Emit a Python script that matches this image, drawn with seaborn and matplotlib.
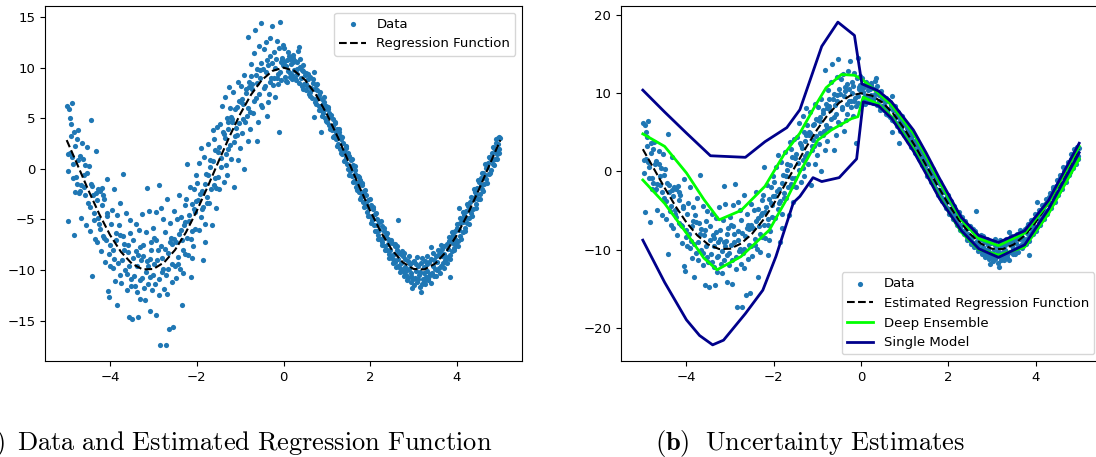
import matplotlib
matplotlib.use("Agg")
import matplotlib.pyplot as plt
import seaborn as sns

plt.rcParams["font.size"] = 9.5
plt.rcParams["mathtext.fontset"] = "cm"

data_x = [
    -4.99, -4.97, -4.95, -4.93, -4.90, -4.88, -4.85, -4.82, -4.79, -4.76, -4.96, -4.84, -4.92, -4.87, -4.80,
    -4.74, -4.72, -4.69, -4.67, -4.64, -4.61, -4.58, -4.56, -4.53, -4.51, -4.70, -4.60,
    -4.49, -4.46, -4.44, -4.43, -4.42, -4.39, -4.36, -4.33, -4.31, -4.28, -4.26, -4.35, -4.30,
    -4.24, -4.21, -4.19, -4.16, -4.14, -4.11, -4.08, -4.06, -4.05, -4.03, -4.01, -4.17, -4.10,
    -3.99, -3.96, -3.94, -3.91, -3.88, -3.86, -3.83, -3.80, -3.78, -3.76, -3.90, -3.85,
    -3.74, -3.71, -3.69, -3.66, -3.63, -3.61, -3.58, -3.56, -3.53, -3.51, -3.68, -3.55, -3.57,
    -3.49, -3.46, -3.44, -3.41, -3.38, -3.36, -3.35, -3.33, -3.31, -3.28, -3.26, -3.40, -3.30,
    -3.24, -3.21, -3.19, -3.16, -3.15, -3.14, -3.11, -3.08, -3.07, -3.06, -3.03, -3.01, -3.12, -3.05,
    -2.99, -2.96, -2.95, -2.94, -2.91, -2.88, -2.86, -2.84, -2.83, -2.80, -2.78, -2.76, -2.90, -2.82,
    -2.74, -2.72, -2.71, -2.69, -2.66, -2.63, -2.61, -2.58, -2.56, -2.55, -2.53, -2.51, -2.68, -2.60,
    -2.49, -2.46, -2.44, -2.41, -2.38, -2.36, -2.35, -2.33, -2.31, -2.28, -2.26, -2.40, -2.30,
    -2.24, -2.22, -2.21, -2.19, -2.16, -2.14, -2.13, -2.11, -2.08, -2.06, -2.03, -2.01, -2.10, -2.05,
    -1.99, -1.96, -1.94, -1.91, -1.88, -1.86, -1.83, -1.80, -1.78, -1.76, -1.90, -1.81, -1.85,
    -1.74, -1.71, -1.69, -1.66, -1.63, -1.61, -1.58, -1.56, -1.53, -1.51, -1.70, -1.60, -1.55,
    -1.49, -1.46, -1.44, -1.41, -1.38, -1.36, -1.34, -1.33, -1.31, -1.28, -1.26, -1.40, -1.30, -1.27,
    -1.24, -1.21, -1.19, -1.16, -1.14, -1.13, -1.11, -1.08, -1.06, -1.03, -1.01, -1.20, -1.10, -1.05,
    -0.99, -0.96, -0.94, -0.92, -0.91, -0.88, -0.86, -0.83, -0.82, -0.80, -0.78, -0.76, -0.95, -0.85, -0.77,
    -0.74, -0.71, -0.69, -0.66, -0.63, -0.62, -0.61, -0.58, -0.56, -0.53, -0.51, -0.72, -0.60, -0.55, -0.52,
    -0.49, -0.46, -0.44, -0.41, -0.38, -0.36, -0.33, -0.31, -0.28, -0.26, -0.40, -0.35, -0.30,
    -0.24, -0.21, -0.19, -0.16, -0.13, -0.11, -0.08, -0.06, -0.03, -0.01, -0.20, -0.15, -0.10, -0.05, -0.02,
    0.02, 0.04, 0.07, 0.09, 0.12, 0.14, 0.17, 0.19, 0.22, 0.24, 0.05, 0.10, 0.15, 0.20,
    0.26, 0.28, 0.31, 0.33, 0.36, 0.38, 0.41, 0.43, 0.46, 0.48, 0.35, 0.30, 0.45,
    0.51, 0.53, 0.56, 0.58, 0.61, 0.63, 0.66, 0.68, 0.71, 0.73, 0.55, 0.60, 0.70, 0.75,
    0.76, 0.78, 0.81, 0.83, 0.86, 0.87, 0.88, 0.91, 0.93, 0.96, 0.98, 0.80, 0.90, 0.95,
    1.01, 1.03, 1.06, 1.08, 1.11, 1.13, 1.16, 1.18, 1.21, 1.23, 1.05, 1.15, 1.20,
    1.26, 1.28, 1.31, 1.33, 1.36, 1.38, 1.41, 1.43, 1.46, 1.48, 1.30, 1.40, 1.45,
    1.51, 1.53, 1.56, 1.58, 1.61, 1.63, 1.66, 1.68, 1.71, 1.73, 1.55, 1.65, 1.70,
    1.76, 1.78, 1.81, 1.83, 1.86, 1.88, 1.91, 1.93, 1.96, 1.98, 1.80, 1.90, 1.95,
    2.01, 2.03, 2.06, 2.08, 2.11, 2.13, 2.16, 2.18, 2.21, 2.23, 2.05, 2.15, 2.20,
    2.26, 2.28, 2.31, 2.33, 2.36, 2.38, 2.41, 2.43, 2.46, 2.48, 2.30, 2.40, 2.45,
    2.51, 2.53, 2.56, 2.58, 2.61, 2.63, 2.64, 2.66, 2.68, 2.71, 2.73, 2.55, 2.65, 2.70,
    2.76, 2.78, 2.81, 2.83, 2.86, 2.88, 2.91, 2.93, 2.96, 2.98, 2.80, 2.85, 2.90, 2.95,
    3.01, 3.03, 3.06, 3.08, 3.11, 3.13, 3.16, 3.18, 3.21, 3.23, 3.05, 3.15, 3.20, 3.25,
    3.26, 3.28, 3.31, 3.33, 3.36, 3.38, 3.40, 3.41, 3.43, 3.46, 3.48, 3.30, 3.35, 3.45,
    3.51, 3.53, 3.56, 3.58, 3.61, 3.63, 3.66, 3.68, 3.71, 3.73, 3.55, 3.65, 3.70,
    3.76, 3.78, 3.81, 3.83, 3.84, 3.86, 3.88, 3.91, 3.93, 3.96, 3.98, 3.80, 3.90, 3.95,
    4.01, 4.03, 4.04, 4.06, 4.08, 4.11, 4.13, 4.16, 4.18, 4.21, 4.23, 4.05, 4.15, 4.20,
    4.26, 4.28, 4.31, 4.33, 4.36, 4.38, 4.41, 4.43, 4.46, 4.48, 4.30, 4.40, 4.45,
    4.51, 4.53, 4.56, 4.58, 4.61, 4.63, 4.66, 4.68, 4.71, 4.73, 4.55, 4.65, 4.70,
    4.76, 4.78, 4.81, 4.83, 4.86, 4.88, 4.91, 4.93, 4.96, 4.98, 4.80, 4.90, 4.95, 4.99, 4.97,
    # denser points close to the curve
    -4.98, -4.91, -4.86, -4.81, -4.77, -4.73, -4.68, -4.63, -4.57, -4.52,
    -4.47, -4.41, -4.37, -4.32, -4.27, -4.23, -4.18, -4.13, -4.07, -4.02,
    -3.98, -3.93, -3.87, -3.82, -3.77, -3.73, -3.67, -3.62, -3.59, -3.52,
    -3.47, -3.42, -3.37, -3.32, -3.27, -3.23, -3.18, -3.13, -3.09, -3.02,
    -2.98, -2.93, -2.87, -2.81, -2.77, -2.73, -2.67, -2.62, -2.57, -2.52,
    -2.48, -2.43, -2.37, -2.32, -2.27, -2.23, -2.18, -2.12, -2.07, -2.02,
    -1.98, -1.93, -1.87, -1.82, -1.77, -1.73, -1.68, -1.62, -1.57, -1.52,
    -1.48, -1.43, -1.37, -1.32, -1.29, -1.23, -1.18, -1.12, -1.07, -1.02,
    -0.98, -0.93, -0.87, -0.81, -0.79, -0.73, -0.68, -0.64, -0.57, -0.54,
    -0.48, -0.43, -0.37, -0.32, -0.27, -0.23, -0.18, -0.12, -0.07, -0.04,
    0.01, 0.06, 0.11, 0.16, 0.21, 0.23, 0.27, 0.32, 0.37, 0.42, 0.44, 0.49,
    0.52, 0.57, 0.62, 0.67, 0.72, 0.74, 0.77, 0.82, 0.85, 0.89, 0.94, 0.99,
    1.02, 1.07, 1.10, 1.14, 1.19, 1.24, 1.27, 1.32, 1.35, 1.39, 1.44, 1.49,
    1.52, 1.57, 1.60, 1.64, 1.69, 1.74, 1.77, 1.82, 1.85, 1.89, 1.94, 1.99,
    2.02, 2.07, 2.10, 2.14, 2.19, 2.24, 2.27, 2.32, 2.35, 2.39, 2.44, 2.49,
    2.52, 2.57, 2.60, 2.62, 2.69, 2.74, 2.77, 2.79, 2.84, 2.89, 2.94, 2.99,
    3.02, 3.07, 3.10, 3.14, 3.19, 3.24, 3.27, 3.32, 3.34, 3.39, 3.44, 3.49,
    3.52, 3.57, 3.60, 3.64, 3.69, 3.74, 3.77, 3.82, 3.85, 3.89, 3.94, 3.99,
    4.02, 4.07, 4.10, 4.14, 4.19, 4.24, 4.27, 4.32, 4.35, 4.39, 4.44, 4.49,
    4.52, 4.57, 4.60, 4.64, 4.69, 4.74, 4.77, 4.82, 4.85, 4.89, 4.94, 4.92,
]
data_y = [
    6.2, -0.2, 5.9, 1.6, 4.4, 6.5, 0.5, 3.6, -0.8, 2.9, -5.2, -6.5, 5.0, 1.2, -2.3,
    3.8, -2.4, 1.3, -4.9, 2.6, -1.8, 0.4, -5.6, 2.2, -3.4, -2.2, -0.6,
    0.3, -6.1, -1.5, 4.8, -10.6, -2.6, -4.4, 1.8, -7.2, -2.0, -5.5, -6.9, -3.1,
    -2.2, -8.1, -1.9, -6.6, -3.0, -9.2, -4.4, -1.0, -12.1, -12.7, -7.5, -2.6, -7.0,
    -9.6, -4.1, -8.0, -2.0, -11.1, -6.3, -13.5, -5.6, -10.5, -3.4, -8.9, -4.6,
    -11.3, -6.6, -0.5, -10.0, -4.4, -12.0, -7.5, -9.6, -5.1, -11.6, -8.0, -6.3, -14.6,
    -14.8, -7.0, -10.6, -5.5, -12.2, -8.5, -14.6, -6.0, -11.0, -9.0, -4.5, -8.1, -12.9,
    -7.5, -11.8, -13.0, -6.2, -1.9, -9.1, -4.2, -10.7, -14.1, -8.0, -12.0, -5.8, -9.6, -7.2,
    -6.8, -11.4, -14.4, -4.3, -9.0, -1.6, -12.5, -17.4, -7.6, -10.2, -5.0, -11.9, -8.0, -3.9,
    -6.2, -17.4, -10.5, -3.0, -8.3, -15.8, -5.4, -11.2, -7.4, -15.6, -4.2, -9.6, -12.4, -6.8,
    -10.8, -5.0, -8.7, -2.6, -9.9, -4.8, -13.5, -7.0, -10.3, -3.6, -8.4, -6.4, -5.6,
    -3.0, 0.5, -8.5, -5.2, -1.8, -10.7, -6.9, -3.5, -7.6, -2.0, -5.9, -0.6, -8.8, -4.3,
    -1.4, -6.0, 0.6, -4.8, -2.2, -9.0, 1.2, -5.5, -0.5, -3.4, 2.1, -7.2, -3.8,
    2.5, -3.4, 0.9, -5.6, 3.8, -1.6, 1.9, -3.9, 4.1, -0.8, 0.2, 2.9, -1.9,
    -2.0, 4.4, 1.1, 6.2, -1.3, 3.0, 7.1, 0.4, 5.0, 2.0, 8.1, 3.6, -0.6, 4.6,
    6.0, 1.0, 4.6, 7.6, -1.8, 2.7, 5.9, 3.3, 8.6, 6.7, 2.1, 5.1, 4.0, 0.9,
    8.2, 3.5, 6.4, 0.0, 9.3, 4.6, 7.5, 2.8, 13.0, 8.6, 5.6, 10.4, 6.9, 5.2, 3.9,
    9.2, 5.5, 11.4, 13.7, 7.0, 2.8, 9.9, 4.6, 12.1, 6.3, 10.5, 7.9, 8.5, 9.0, 14.4,
    6.1, 11.8, 8.0, 12.5, 5.2, 10.3, 7.4, 11.2, 9.0, 14.1, 9.6, 6.6, 12.9,
    8.3, 11.5, 7.1, 12.6, 9.4, 3.6, 14.5, 8.8, 11.0, 10.3, 10.0, 9.0, 11.9, 10.6, 12.2,
    11.9, 9.1, 10.8, 8.6, 11.2, 9.5, 10.4, 8.9, 11.0, 9.8, 10.2, 9.7, 10.9, 9.3,
    10.7, 8.8, 9.9, 11.6, 8.5, 10.1, 9.0, 8.2, 9.7, 8.4, 12.0, 9.4, 10.3,
    9.5, 7.8, 8.9, 7.4, 9.1, 8.0, 7.0, 8.5, 5.1, 7.9, 8.2, 7.6, 9.6, 6.9,
    6.4, 7.8, 6.2, 7.3, 5.8, 3.6, 6.9, 5.5, 6.6, 5.0, 6.2, 7.0, 6.4, 5.9,
    4.6, 5.9, 4.3, 5.2, 3.8, 4.9, 3.2, 4.5, 2.9, 3.9, 5.5, 4.2, 3.6,
    2.5, 3.6, 2.0, 2.9, 1.5, 2.6, 0.9, 2.1, 0.5, 1.6, 3.2, 1.8, 1.2,
    1.3, -0.2, 0.9, -0.7, 0.4, -1.2, -0.1, -1.8, -0.7, -2.3, 0.2, -0.5, -1.4,
    -1.1, -2.8, -1.6, -3.3, -2.2, -3.7, -2.6, -4.3, -3.1, -4.7, -2.4, -3.5, -3.8,
    -3.6, -5.1, -4.0, -5.6, -4.5, -6.1, -5.0, -6.5, -5.3, -6.9, -4.8, -5.6, -6.0,
    -5.7, -7.2, -6.1, -7.6, -6.5, -8.0, -6.9, -8.4, -7.2, -8.7, -6.8, -7.4, -8.0,
    -7.3, -8.9, -7.6, -9.2, -8.0, -5.1, -9.6, -8.3, -9.8, -8.4, -10.0, -8.4, -8.9, -9.3,
    -8.6, -10.2, -8.9, -10.5, -9.1, -10.8, -9.4, -10.3, -11.8, -9.2, -9.7, -10.0, -9.9, -10.6,
    -9.1, -10.8, -9.4, -11.2, -9.6, -10.5, -12.2, -9.3, -10.9, -9.7, -10.1, -10.2, -11.4, -10.3,
    -9.1, -10.7, -9.4, -11.0, -9.2, -10.4, -7.7, -8.9, -10.3, -9.0, -10.6, -10.1, -10.6, -9.6,
    -8.6, -10.0, -8.5, -9.8, -8.2, -9.6, -7.9, -9.3, -7.6, -9.0, -9.2, -8.6, -8.4,
    -7.4, -8.8, -7.1, -8.5, -10.7, -6.8, -8.1, -6.5, -7.8, -6.1, -7.4, -7.9, -7.3, -6.9,
    -5.8, -7.1, -3.9, -5.4, -6.6, -5.0, -6.2, -4.6, -5.8, -4.2, -5.4, -6.0, -5.3, -4.9,
    -3.7, -4.9, -3.3, -4.4, -2.9, -4.0, -2.3, -3.5, -1.9, -3.0, -4.0, -3.0, -2.6,
    -1.3, -2.5, -0.9, -2.0, -0.4, -1.5, 0.1, -1.0, 0.6, -0.5, -1.6, -0.6, 0.2,
    1.1, -0.1, 1.6, 0.5, 2.1, 1.0, 2.6, 1.5, 3.1, 2.0, 0.9, 1.8, 2.5, 3.0, 1.6,
    # denser points close to the curve
    1.5, 3.2, -0.9, 2.3, -1.5, 0.9, -1.6, 1.0, -2.6, -0.4,
    -3.8, -1.7, -5.1, -2.4, -4.9, -5.9, -3.6, -6.8, -4.7, -8.4,
    -5.5, -9.8, -7.0, -9.3, -6.5, -9.0, -7.4, -10.4, -8.2, -10.9,
    -8.8, -11.6, -9.6, -7.7, -10.8, -8.6, -10.2, -11.4, -8.9, -10.5,
    -9.4, -7.0, -10.9, -8.8, -9.9, -7.9, -9.9, -7.2, -9.4, -6.9,
    -7.2, -9.4, -6.0, -8.0, -5.3, -6.8, -4.6, -6.1, -4.0, -3.2,
    -3.1, -2.5, -4.0, -1.5, -2.8, -0.6, -2.0, 0.8, -0.9, 1.7,
    2.2, 0.2, 3.4, 1.5, 3.9, 2.4, 4.9, 3.2, 6.1, 4.5,
    6.6, 4.9, 7.9, 6.0, 8.1, 8.4, 6.7, 9.3, 7.4, 9.8,
    9.9, 8.2, 10.8, 8.6, 10.5, 9.0, 10.9, 8.4, 9.6, 10.8,
    10.6, 8.7, 11.5, 9.1, 10.6, 11.3, 9.0, 10.6, 10.9, 9.8, 7.9, 9.3,
    8.4, 9.4, 7.2, 8.9, 6.6, 8.3, 8.4, 5.8, 7.6, 5.2, 7.1, 4.7,
    6.1, 3.9, 5.3, 3.1, 4.6, 2.3, 3.9, 1.6, 3.1, 0.8, 2.3, 0.0,
    -0.6, 1.0, -1.3, 0.3, -2.1, -0.8, -3.0, -1.4, -3.8, -2.1, -4.7, -3.0,
    -5.4, -3.8, -6.1, -4.4, -6.9, -5.2, -7.5, -5.8, -8.0, -6.3, -8.8, -7.0,
    -9.3, -7.4, -9.7, -7.6, -10.2, -8.1, -10.6, -8.3, -11.0, -8.6, -11.2, -10.9,
    -11.5, -8.7, -10.9, -11.7, -8.8, -11.1, -11.4, -8.6, -10.9, -11.3, -8.3, -9.9,
    -10.6, -8.0, -10.3, -7.5, -9.8, -8.7, -9.3, -6.7, -8.9, -6.2, -8.0, -5.5,
    -7.6, -4.9, -6.9, -4.3, -6.1, -3.5, -5.5, -2.8, -4.7, -2.0, -3.9, -1.1,
    -3.0, -0.4, -2.2, 0.5, -1.4, 1.2, -0.4, 2.2, 0.4, 2.9, 3.0, 1.0,
]

# regression function (dashed)
reg_x = [-5.0, -4.75, -4.5, -4.25, -4.0, -3.75, -3.5, -3.25, -3.0, -2.75, -2.5, -2.25, -2.0,
         -1.75, -1.5, -1.25, -1.0, -0.75, -0.5, -0.25, 0.0, 0.25, 0.5, 0.75, 1.0, 1.25, 1.5,
         1.75, 2.0, 2.25, 2.5, 2.75, 3.0, 3.25, 3.5, 3.75, 4.0, 4.25, 4.5, 4.75, 5.0]
reg_y = [2.84, 0.38, -2.11, -4.46, -6.54, -8.20, -9.36, -9.94, -9.90, -9.24, -8.01, -6.28, -4.16,
         -1.78, 0.71, 3.15, 5.40, 7.32, 8.78, 9.69, 10.0, 9.69, 8.78, 7.32, 5.40, 3.15, 0.71,
         -1.78, -4.16, -6.28, -8.01, -9.24, -9.90, -9.94, -9.36, -8.20, -6.54, -4.46, -2.11, 0.38, 2.84]

# deep ensemble bounds
ens_up_x = [-5.0, -4.5, -4.0, -3.6, -3.25, -2.75, -2.2, -1.75, -1.4, -1.07, -0.8, -0.45, -0.15,
            0.02, 0.4, 0.7, 1.2, 1.5, 1.8, 2.3, 2.7, 3.15, 3.75, 4.3, 5.0]
ens_up_y = [4.8, 3.2, -0.2, -3.6, -6.2, -5.0, -1.9, 2.3, 4.9, 8.2, 10.7, 12.4, 12.3,
            11.8, 10.0, 8.5, 4.9, 1.9, -1.3, -6.2, -8.6, -9.5, -7.9, -4.0, 3.2]
ens_lo_x = [-5.0, -4.5, -4.0, -3.6, -3.3, -2.75, -2.1, -1.68, -1.38, -0.99, -0.68, -0.22, -0.07,
            0.05, 0.4, 0.7, 1.2, 1.5, 1.8, 2.3, 2.7, 3.15, 3.75, 4.3, 5.0]
ens_lo_y = [-1.1, -4.1, -7.9, -11.1, -12.6, -10.9, -7.5, -3.3, 0.1, 4.0, 5.3, 6.75, 7.0,
            9.5, 8.6, 7.0, 2.9, -0.2, -3.3, -7.8, -10.0, -10.7, -9.7, -5.4, 1.6]

# single model bounds
single_up_x = [-5.0, -4.5, -4.0, -3.45, -2.65, -2.2, -1.7, -1.4, -0.9, -0.53, -0.15,
               0.02, 0.4, 0.7, 1.2, 1.5, 1.8, 2.3, 2.7, 3.15, 3.75, 4.3, 5.0]
single_up_y = [10.4, 7.6, 4.9, 2.0, 1.8, 3.8, 5.6, 7.9, 16.0, 19.1, 17.4,
               11.2, 10.3, 8.9, 5.3, 2.3, -0.9, -5.9, -8.2, -9.1, -7.6, -3.7, 3.6]
single_lo_x = [-5.0, -4.5, -4.0, -3.7, -3.4, -3.15, -2.65, -2.25, -1.95, -1.55, -1.4, -1.1, -0.9,
               -0.5, -0.1, 0.05, 0.4, 0.7, 1.2, 1.5, 1.8, 2.3, 2.7, 3.15, 3.75, 4.3, 5.0]
single_lo_y = [-8.8, -14.2, -19.0, -21.0, -22.2, -21.6, -18.2, -15.2, -10.9, -4.0, -3.2, -0.8, -1.3,
               -0.8, 1.6, 8.9, 8.4, 6.8, 2.6, -0.4, -3.5, -7.6, -9.9, -11.0, -9.4, -4.8, 2.4]

blue = "#1f77b4"
W, H = 1096, 457

fig = plt.figure(figsize=(W / 100, H / 100), dpi=100)
ax1 = fig.add_axes([45 / W, 96 / H, 477 / W, 355 / H])
ax2 = fig.add_axes([621 / W, 96 / H, 480 / W, 355 / H])

# (a) data + regression function
sns.scatterplot(x=data_x, y=data_y, ax=ax1, color=blue, s=14, linewidth=0, label="Data")
sns.lineplot(x=reg_x, y=reg_y, ax=ax1, color="black", linestyle="--", linewidth=1.5,
             label="Regression Function")
ax1.legend(loc="upper right")

# (b) uncertainty estimates
sns.scatterplot(x=data_x, y=data_y, ax=ax2, color=blue, s=14, linewidth=0, label="Data")
sns.lineplot(x=reg_x, y=reg_y, ax=ax2, color="black", linestyle="--", linewidth=1.5,
             label="Estimated Regression Function")
sns.lineplot(x=ens_up_x, y=ens_up_y, ax=ax2, color="lime", linewidth=2, label="Deep Ensemble")
sns.lineplot(x=ens_lo_x, y=ens_lo_y, ax=ax2, color="lime", linewidth=2)
sns.lineplot(x=single_up_x, y=single_up_y, ax=ax2, color="darkblue", linewidth=2,
             label="Single Model")
sns.lineplot(x=single_lo_x, y=single_lo_y, ax=ax2, color="darkblue", linewidth=2)
ax2.set_xlim(ax1.get_xlim())
ax2.legend(loc="lower right")

for ax in (ax1, ax2):
    ax.set_xlabel("")
    ax.set_ylabel("")

# sub-figure captions (the reference crops "(a)" at the left edge)
base = 1 - 450 / H
fig.text(5 / W, base, r"$\mathbf{(a)}$", ha="right", va="baseline", fontsize=19)
fig.text(17 / W, base, r"$\mathrm{Data\ and\ Estimated\ Regression\ Function}$",
         ha="left", va="baseline", fontsize=19)
fig.text(655 / W, base, r"$\mathbf{(b)}$", ha="left", va="baseline", fontsize=19)
fig.text(705 / W, base, r"$\mathrm{Uncertainty\ Estimates}$", ha="left", va="baseline", fontsize=19)

fig.savefig("out.png", dpi=100)
plt.close(fig)
